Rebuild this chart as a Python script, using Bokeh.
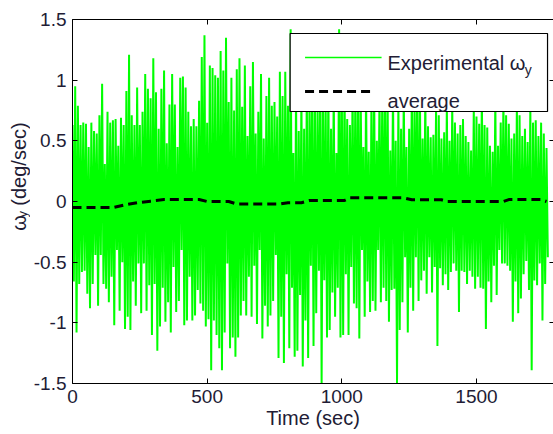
import numpy as np
from bokeh.plotting import figure
from bokeh.layouts import row
from bokeh.models import Range1d, FixedTicker, LinearAxis, Label
from bokeh.embed import file_html
from bokeh.resources import INLINE

# Angular rate about the y axis, logged every 5 s; stored as the alternating
# positive / negative excursions (deg/sec) that make up the trace.
SAMPLE_STEP = 10  # seconds between successive positive excursions

peak_high = [
    0.63, 0.95, 0.79, 0.63, 0.65, 0.64, 0.45, 0.65, 0.58, 0.56,
    0.71, 0.97, 0.31, 0.74, 0.65, 0.67, 0.68, 0.46, 0.69, 0.63,
    0.91, 1.21, 0.71, 0.63, 0.94, 0.63, 0.74, 1.05, 0.93, 0.85,
    1.18, 0.90, 0.60, 0.93, 1.08, 0.48, 0.80, 1.05, 0.80, 0.45,
    1.02, 1.03, 0.94, 0.74, 0.62, 0.68, 0.62, 0.83, 1.19, 1.37,
    0.65, 1.12, 1.10, 1.04, 1.02, 1.24, 1.08, 1.35, 0.82, 1.02,
    0.75, 1.09, 1.18, 0.78, 1.12, 0.54, 0.95, 1.15, 0.56, 0.74,
    1.05, 0.52, 0.87, 1.02, 0.79, 0.82, 0.70, 1.07, 0.87, 1.07,
    0.79, 1.42, 0.40, 0.95, 0.58, 0.90, 0.60, 0.95, 0.85, 1.00,
    0.90, 0.80, 1.05, 0.90, 0.85, 1.00, 0.60, 0.95, 0.40, 1.42,
    0.90, 1.00, 0.68, 0.63, 0.95, 0.85, 1.10, 0.90, 0.45, 0.95,
    0.41, 0.85, 1.00, 0.50, 0.90, 0.85, 1.05, 0.90, 0.42, 0.95,
    0.50, 0.85, 0.60, 0.90, 0.45, 0.60, 0.95, 0.85, 1.00, 0.90,
    0.52, 0.90, 0.62, 0.53, 0.55, 0.78, 0.71, 0.52, 0.57, 0.80,
    0.50, 0.80, 0.65, 0.56, 0.63, 0.68, 0.54, 0.49, 0.42, 0.78,
    0.70, 0.64, 0.90, 0.63, 0.61, 0.46, 0.41, 0.85, 0.46, 0.65,
    0.85, 0.71, 0.64, 0.52, 0.56, 0.80, 0.71, 0.54, 0.60, 0.49,
    0.80, 0.65, 0.67, 0.54, 0.65, 0.56, 0.44,
]

peak_low = [
    -0.66, -1.08, -0.68, -0.58, -0.57, -0.76, -0.88, -0.68, -0.44, -0.86,
    -0.44, -0.68, -0.72, -0.83, -0.62, -1.02, -0.40, -0.90, -0.50, -1.05,
    -0.95, -1.06, -0.66, -0.86, -0.51, -0.92, -0.51, -0.90, -0.69, -1.10,
    -0.68, -1.23, -1.03, -0.71, -0.99, -0.83, -1.08, -0.54, -0.91, -0.82,
    -0.40, -1.02, -0.98, -0.62, -0.98, -0.94, -0.73, -0.84, -0.90, -1.03,
    -0.97, -1.39, -0.98, -1.10, -1.21, -1.39, -1.08, -0.51, -1.21, -1.12,
    -1.28, -1.12, -0.94, -0.82, -0.94, -0.62, -0.95, -0.53, -1.01, -0.40,
    -1.13, -0.86, -1.03, -0.94, -0.82, -0.44, -1.29, -0.95, -1.33, -0.60,
    -1.21, -0.71, -1.28, -1.23, -0.77, -1.36, -0.98, -1.29, -0.53, -1.19,
    -0.92, -0.57, -1.50, -0.65, -1.12, -1.06, -0.75, -0.95, -0.71, -1.12,
    -1.10, -0.60, -1.10, -0.54, -0.84, -0.88, -1.13, -0.40, -0.95, -0.66,
    -0.91, -0.82, -0.90, -0.40, -0.83, -0.71, -0.82, -0.99, -0.73, -0.72,
    -1.50, -1.06, -0.83, -0.46, -1.08, -0.71, -0.90, -0.46, -0.82, -0.65,
    -0.57, -0.76, -0.46, -0.75, -0.54, -1.19, -0.55, -0.69, -0.60, -0.73,
    -0.58, -0.51, -0.57, -0.91, -0.57, -0.58, -0.68, -0.57, -0.62, -0.72,
    -0.62, -0.71, -0.72, -1.05, -0.66, -0.83, -0.53, -0.77, -0.40, -0.51,
    -0.51, -0.53, -0.57, -0.99, -0.66, -0.92, -0.80, -0.60, -0.49, -0.73,
    -1.39, -0.65, -0.69, -0.51, -0.98, -0.68, -0.46,
]

# Running average of the rate (deg/sec)
avg_time = [0, 150, 190, 240, 290, 340, 470, 500, 580, 610, 770, 800,
            850, 880, 1010, 1030, 1230, 1260, 1370, 1390, 1600, 1620, 1740, 1760]
avg_value = [-0.05, -0.05, -0.03, -0.01, 0.003, 0.016, 0.016, 0.0, 0.0, -0.02,
             -0.02, -0.01, -0.01, 0.008, 0.008, 0.03, 0.03, 0.014, 0.014, 0.0,
             0.0, 0.016, 0.016, 0.0]

x_ticks = [0, 500, 1000, 1500]
y_ticks = [-1.5, -1, -0.5, 0, 0.5, 1, 1.5]
y_tick_labels = ["-1.5", "-1", "-0.5", "0", "0.5", "1", "1.5"]

X_MIN, X_MAX = 0, 1786
Y_MIN, Y_MAX = -1.5, 1.5
W, H = 553, 434
LABEL_W = 30                      # strip holding the vertical axis title
FRAME_L, FRAME_T, FRAME_R, FRAME_B = 69, 19, 553, 383   # page pixels

GREEN = "#00ff00"
TEXT = "#221c35"
FONT = "Liberation Sans"


def dx(px):
    """Page pixel column -> seconds."""
    return X_MIN + (px - FRAME_L) * (X_MAX - X_MIN) / (FRAME_R - FRAME_L)


def dy(py):
    """Page pixel row -> deg/sec."""
    return Y_MAX - (py - FRAME_T) * (Y_MAX - Y_MIN) / (FRAME_B - FRAME_T)


n = len(peak_high)
t_hi = np.arange(n) * SAMPLE_STEP
t = np.empty(2 * n)
w = np.empty(2 * n)
t[0::2] = t_hi
t[1::2] = t_hi + SAMPLE_STEP / 2
w[0::2] = peak_high
w[1::2] = peak_low

p = figure(width=W - LABEL_W, height=H, output_backend="svg", toolbar_location=None,
           x_range=Range1d(X_MIN, X_MAX), y_range=Range1d(Y_MIN, Y_MAX),
           min_border_left=FRAME_L - LABEL_W, min_border_right=W - FRAME_R,
           min_border_top=FRAME_T, min_border_bottom=H - FRAME_B,
           background_fill_color="white", border_fill_color="white")
p.outline_line_color = None
p.xgrid.visible = False
p.ygrid.visible = False

# trace and its average
p.line(t, w, line_color=GREEN, line_width=2.0, line_join="bevel")
p.line(avg_time, avg_value, line_color="black", line_width=3, line_dash="9 5")


# axes: ticks point inwards, like a boxed plot
def style_axis(ax, show_labels=True):
    ax.axis_line_color = "black"
    ax.axis_line_width = 1
    ax.major_tick_line_color = "black"
    ax.major_tick_in = 5
    ax.major_tick_out = 0
    ax.minor_tick_line_color = None
    ax.major_label_text_font = FONT
    ax.major_label_text_color = TEXT
    if show_labels:
        ax.major_label_text_font_size = "19px"
    else:
        # tick marks only: labels are not painted and take almost no room
        ax.major_label_text_font_size = "2px"
        ax.major_label_text_color = None
        ax.major_label_standoff = 0


xa = p.xaxis[0]
ya = p.yaxis[0]
xa.ticker = FixedTicker(ticks=x_ticks)
ya.ticker = FixedTicker(ticks=y_ticks)
style_axis(xa)
style_axis(ya)
xa.major_label_standoff = 6
ya.major_label_standoff = 6
ya.major_label_overrides = dict(zip(y_ticks, y_tick_labels))
xa.major_label_overrides = {v: str(v) for v in x_ticks}
xa.axis_label = "Time (sec)"
xa.axis_label_text_font = FONT
xa.axis_label_text_font_size = "20px"
xa.axis_label_text_font_style = "normal"
xa.axis_label_text_color = TEXT
xa.axis_label_standoff = 1

top = LinearAxis(ticker=FixedTicker(ticks=x_ticks))
style_axis(top, show_labels=False)
p.add_layout(top, "above")

right = LinearAxis(ticker=FixedTicker(ticks=y_ticks))
style_axis(right, show_labels=False)
right.axis_line_color = None
right.major_tick_in = 4
p.add_layout(right, "right")

# legend
p.quad(left=[dx(288)], right=[dx(547)], top=[dy(33)], bottom=[dy(111)],
       fill_color="white", fill_alpha=1.0, line_color="black", line_width=1.2,
       level="overlay")
p.line([dx(303), dx(380)], [dy(57), dy(57)], line_color=GREEN, line_width=1.3,
       level="overlay")
p.line([dx(303), dx(373)], [dy(91), dy(91)], line_color="black", line_width=3,
       line_dash="9 5", level="overlay")
p.add_layout(Label(x=dx(386), y=dy(62), text="Experimental ω",
                   text_baseline="alphabetic", text_font=FONT,
                   text_font_size="20px", text_color=TEXT, level="overlay"))
p.add_layout(Label(x=dx(524), y=dy(69), text="y",
                   text_baseline="alphabetic", text_font=FONT,
                   text_font_size="14px", text_color=TEXT, level="overlay"))
p.add_layout(Label(x=dx(386), y=dy(100), text="average",
                   text_baseline="alphabetic", text_font=FONT,
                   text_font_size="20px", text_color=TEXT, level="overlay"))

# vertical axis title (ω with subscript y), set in its own narrow strip;
# the strip's data units are page pixels, measured upwards from the bottom
lab = figure(width=LABEL_W, height=H, output_backend="svg", toolbar_location=None,
             x_range=Range1d(0, LABEL_W), y_range=Range1d(0, H),
             x_axis_type=None, y_axis_type=None, min_border=0,
             background_fill_color="white", border_fill_color="white")
lab.outline_line_color = None
lab.xgrid.visible = False
lab.ygrid.visible = False
lab.add_layout(Label(x=18, y=H - 252, text="ω", angle=90, angle_units="deg",
                     text_align="left", text_baseline="alphabetic", text_font=FONT,
                     text_font_size="20px", text_color=TEXT))
lab.add_layout(Label(x=21.5, y=H - 236, text="y", angle=90, angle_units="deg",
                     text_align="left", text_baseline="alphabetic", text_font=FONT,
                     text_font_size="13px", text_color=TEXT))
lab.add_layout(Label(x=18, y=H - 222, text="(deg/sec)", angle=90, angle_units="deg",
                     text_align="left", text_baseline="alphabetic", text_font=FONT,
                     text_font_size="20px", text_color=TEXT))

page = row(lab, p, spacing=0)
open("out.html", "w").write(file_html(page, INLINE))
